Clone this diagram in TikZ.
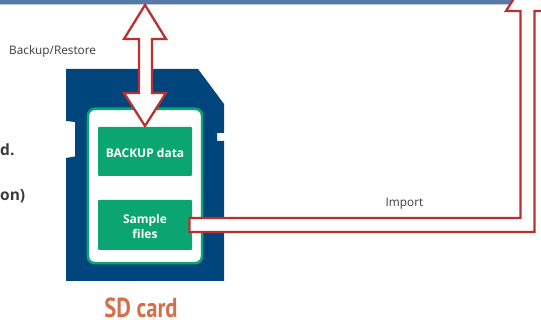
\documentclass[tikz,border=0pt]{standalone}
\usepackage{fontspec}
\setmainfont{Open Sans}
\newfontfamily\titlefont[FakeStretch=0.82]{PT Sans}
\definecolor{barblue}{HTML}{5878A8}
\definecolor{barlight}{HTML}{BCC9DC}
\definecolor{cardblue}{HTML}{00457C}
\definecolor{cardgreen}{HTML}{0BA571}
\definecolor{arrowred}{HTML}{BC2F30}
\definecolor{titleorange}{HTML}{D1704A}
\definecolor{labelgrey}{HTML}{3A3A3A}
\newcommand{\pushdown}[2]{\raisebox{0pt}[\dimexpr\height+#1\relax][\depth]{#2}}
\tikzset{
  greenbox/.style={draw=none,fill=cardgreen,rounded corners=1pt,minimum width=94pt,text=white,font=\bfseries\fontsize{12}{15.5}\selectfont,align=center,inner sep=0pt},
  blockarrow/.style={draw=arrowred,fill=white,line width=2.3pt,miter limit=10,line join=miter},
  smalllabel/.style={text=labelgrey,font=\fontsize{11.8}{14}\selectfont,inner sep=0pt},
  boldlabel/.style={text=labelgrey,font=\bfseries\fontsize{15.5}{18}\selectfont,inner sep=0pt}
}
\begin{document}
\begin{tikzpicture}[x=1pt,y=-1pt]
\useasboundingbox (0,0) rectangle (541,320);
\clip (0,0) rectangle (541,320);
\fill[barlight] (0,0) rectangle (541,5);
\fill[barblue] (0,0) rectangle (541,4);
% SD card body
\fill[cardblue] (66,69) -- (198,69) -- (224,104) -- (224,133) -- (217,133) -- (217,141) -- (224,141) -- (224,281) -- (66,281) -- (66,158) -- (75,156.5) -- (75,122) -- (66,121) -- cycle;
\node[draw=cardgreen,fill=white,line width=2.6pt,rounded corners=7pt,minimum width=114.2pt,minimum height=154.4pt,inner sep=0pt] (inner) at (145,186) {};
\node[greenbox,minimum height=49pt] (backup) at (145,151.5) {\pushdown{4pt}{BACKUP data}};
\node[greenbox,minimum height=50pt] (sample) at (145,225) {\pushdown{6pt}{\begin{tabular}{@{}c@{}}Sample\\files\end{tabular}}};
% Import arrow
\coordinate (importstart) at (189.5,225);
\filldraw[blockarrow] ([yshift=7pt]importstart) -- (520.5,218) -- (520.5,11) -- (506,11) -- (527.5,-23) -- (549,11) -- (534.5,11) -- (534.5,232) -- ([yshift=-7pt]importstart) -- cycle;
% Backup/Restore arrow
\coordinate (busend) at (145,5);
\filldraw[blockarrow] (busend) -- (166,39) -- (152,39) -- (152,93) -- (166,93) -- (145,126) -- (124,93) -- (139,93) -- (139,39) -- (124,39) -- cycle;
% Labels
\node[smalllabel,anchor=west] (backuplabel) at (9,51.5) {Backup/Restore};
\node[smalllabel,anchor=center] (importlabel) at (404.5,203.5) {Import};
\node[boldlabel,anchor=west] (frag1) at (0,150) {d.};
\node[boldlabel,anchor=west] (frag2) at (0,196) {on)};
\node[text=titleorange,inner sep=0pt,font=\titlefont\bfseries\fontsize{27.5}{30}\selectfont,anchor=base] (sdtitle) at (141,317.5) {SD card};
\end{tikzpicture}
\end{document}
